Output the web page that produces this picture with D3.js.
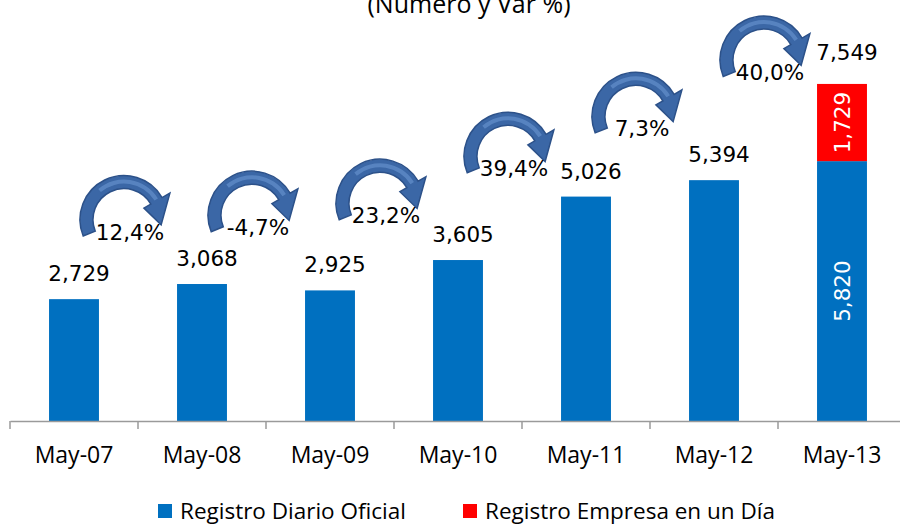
<!DOCTYPE html>
<html>
<head>
<meta charset="utf-8">
<script src="https://cdn.jsdelivr.net/npm/d3@7"></script>
<style>
  body { margin: 0; background: #fff; }
  svg { display: block; }
  .num { font-family: "DejaVu Sans", Verdana, sans-serif; font-size: 21.5px; fill: #000; }
  .cal { font-family: "Open Sans", sans-serif; fill: #000; }
</style>
</head>
<body>
<svg width="900" height="527"></svg>
<script>
const categories = ["May-07", "May-08", "May-09", "May-10", "May-11", "May-12", "May-13"];
const diarioOficial = [2729, 3068, 2925, 3605, 5026, 5394, 5820];
const empresaEnUnDia = [0, 0, 0, 0, 0, 0, 1729];
const seriesNames = ["Registro Diario Oficial", "Registro Empresa en un Día"];
const seriesColors = ["#0070C0", "#FF0000"];

const width = 900, height = 527;
const svg = d3.select("svg");

const totals = categories.map((c, i) => diarioOficial[i] + empresaEnUnDia[i]);

const x = d3.scaleBand()
  .domain(categories)
  .range([10, 906])
  .paddingInner(0)
  .paddingOuter(0);

const y = d3.scaleLinear()
  .domain([0, 8000])
  .range([421, 421 - 8000 * 0.04465]);

const barW = x.bandwidth() * 0.39;
const cx = c => x(c) + x.bandwidth() / 2;
const fmt = d3.format(",");

// title (top line is cut off in the original)
svg.append("text")
  .attr("class", "cal")
  .attr("x", 469)
  .attr("y", 13)
  .attr("text-anchor", "middle")
  .style("font-size", "25px")
  .text("(Número y Var %)");

// stacked bars
const stack = d3.stack().keys([0, 1]).value((d, k) => d[k]);
const rows = categories.map((c, i) => [diarioOficial[i], empresaEnUnDia[i]]);
const layers = stack(rows);

layers.forEach((layer, k) => {
  svg.append("g").selectAll("rect")
    .data(layer)
    .join("rect")
    .attr("x", (d, i) => cx(categories[i]) - barW / 2)
    .attr("width", barW)
    .attr("y", d => y(d[1]))
    .attr("height", d => y(d[0]) - y(d[1]))
    .attr("fill", seriesColors[k]);
});

// x axis
const axis = d3.axisBottom(x).tickSize(0).tickFormat("");
const ax = svg.append("g").attr("transform", "translate(0,421)").call(axis);
ax.select(".domain").attr("stroke", "#9a9a9a").attr("stroke-width", 1.5);
ax.selectAll(".tick").remove();
ax.selectAll(".bound")
  .data(categories.concat(["end"]))
  .join("line")
  .attr("x1", (d, i) => 10 + i * x.step())
  .attr("x2", (d, i) => 10 + i * x.step())
  .attr("y1", 0).attr("y2", 8)
  .attr("stroke", "#9a9a9a").attr("stroke-width", 1.5);

svg.append("g").selectAll("text")
  .data(categories)
  .join("text")
  .attr("class", "cal")
  .attr("x", d => cx(d))
  .attr("y", 463)
  .attr("text-anchor", "middle")
  .style("font-size", "23px")
  .text(d => d);

// total labels above bars
svg.append("g").selectAll("text")
  .data(categories)
  .join("text")
  .attr("class", "num")
  .attr("x", d => cx(d) + 5)
  .attr("y", (d, i) => y(totals[i]) - (i === categories.length - 1 ? 24 : 18))
  .attr("text-anchor", "middle")
  .text((d, i) => fmt(totals[i]));

// rotated labels inside last stacked bar
const last = categories.length - 1;
[[0, diarioOficial[last]], [diarioOficial[last], totals[last]]].forEach(([a, b]) => {
  const my = (y(a) + y(b)) / 2;
  svg.append("text")
    .attr("class", "num")
    .attr("transform", "translate(" + (cx(categories[last]) + 8) + "," + my + ") rotate(-90)")
    .attr("text-anchor", "middle")
    .style("fill", "#fff")
    .text(fmt(b - a));
});

// curved growth arrows
const R = 44, r = 31;
const rad = deg => deg * Math.PI / 180;
const pt = (rr, deg) => [rr * Math.sin(rad(deg)), -rr * Math.cos(rad(deg))];

function arrowPath(ro, ri, a0, a1) {
  const p = d3.path();
  p.arc(0, 0, ro, rad(a0) - Math.PI / 2, rad(a1) - Math.PI / 2, false);
  const wo = pt(ro + 9, a1), tip = pt((ro + ri) / 2, a1 + 38), wi = pt(ri - 8, a1), ei = pt(ri, a1);
  p.lineTo(wo[0], wo[1]);
  p.lineTo(tip[0], tip[1]);
  p.lineTo(wi[0], wi[1]);
  p.lineTo(ei[0], ei[1]);
  p.arc(0, 0, ri, rad(a1) - Math.PI / 2, rad(a0) - Math.PI / 2, true);
  p.closePath();
  return p.toString();
}

function bandPath(ro, ri, a0, a1) {
  return d3.arc().innerRadius(ri).outerRadius(ro).startAngle(rad(a0)).endAngle(rad(a1))();
}

const changes = totals.slice(1).map((v, i) => v / totals[i] - 1);
const pctFmt = v => d3.format(".1f")(v * 100).replace("−", "-").replace(".", ",") + "%";

changes.forEach((ch, i) => {
  const mid = (cx(categories[i]) + cx(categories[i + 1])) / 2;
  const level = y((totals[i] + totals[i + 1]) / 2);
  const g = svg.append("g")
    .attr("transform", "translate(" + (mid - 14) + "," + (level - 116 + R) + ")");
  g.append("path")
    .attr("d", arrowPath(R, r, -112, 60))
    .attr("fill", "#3B67A6")
    .attr("stroke", "#2C5189")
    .attr("stroke-width", 1.5);
  g.append("path")
    .attr("d", bandPath((R + r) / 2 + 2.5, (R + r) / 2 - 1.5, -40, 58))
    .attr("fill", "#6F9BD6")
    .attr("opacity", 0.55);

  svg.append("text")
    .attr("class", "num")
    .attr("x", mid - 8)
    .attr("y", level - 52)
    .attr("text-anchor", "middle")
    .text(pctFmt(ch));
});

// legend
const legendX = [158, 463];
const legend = svg.append("g").selectAll("g")
  .data(seriesNames)
  .join("g")
  .attr("transform", (d, i) => "translate(" + legendX[i] + ",504)");
legend.append("rect")
  .attr("width", 14).attr("height", 14)
  .attr("fill", (d, i) => seriesColors[i]);
legend.append("text")
  .attr("class", "cal")
  .attr("x", 22)
  .attr("y", 15)
  .style("font-size", "22.5px")
  .text(d => d);
</script>
</body>
</html>
